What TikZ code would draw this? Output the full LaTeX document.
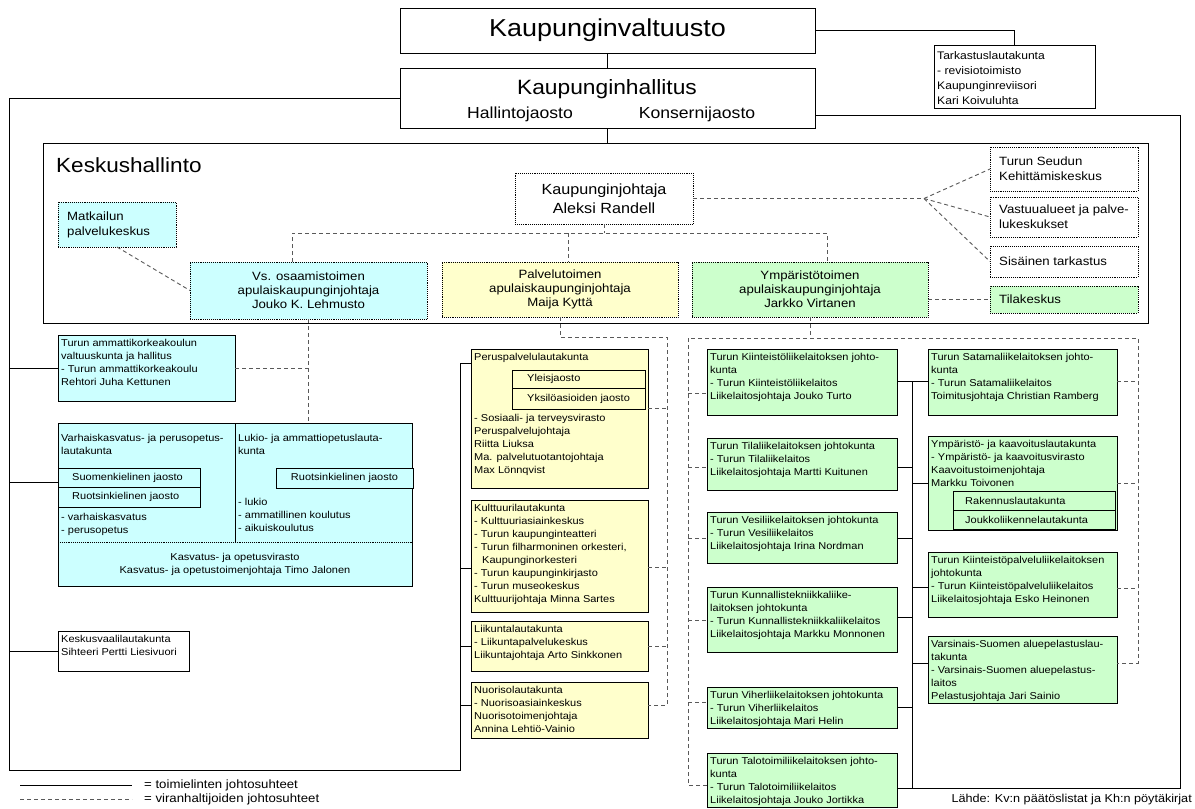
\documentclass[tikz,border=0pt]{standalone}
\usepackage{fontspec}
\setmainfont{Liberation Sans}[FakeStretch=1.1]
\usetikzlibrary{calc}
\definecolor{cyb}{RGB}{204,255,255}
\definecolor{yeb}{RGB}{255,255,204}
\definecolor{grb}{RGB}{204,255,204}
\newcommand{\fsm}{\fontsize{10}{13}\selectfont}
\newcommand{\fmd}{\fontsize{12}{14}\selectfont}
\newcommand{\orgbox}[7][]{%
  \node[bx,#1,anchor=north west,minimum width=#5,minimum height=#6] (#2) at (#3,#4) {};
  \node[txt] (#2t) at ([xshift=3pt,yshift=-4.3pt]#2.north west) {#7};}
\begin{document}
\begin{tikzpicture}[x=1pt,y=-1pt,
  bx/.style={draw=black,line width=1pt,inner sep=0pt,outer sep=0pt},
  dbx/.style={draw=black,densely dotted,line width=0.9pt,inner sep=0pt,outer sep=0pt},
  txt/.style={anchor=north west,align=left,inner sep=0pt,font=\fsm},
  conn/.style={draw=black,line width=1pt},
  dconn/.style={draw=black!65,dash pattern=on 4pt off 3pt,line width=0.9pt},
  ]
\useasboundingbox[fill=white] (0,0) rectangle (1195,809);

% ---- top
\node[bx,anchor=north west,minimum width=415,minimum height=45,font=\fontsize{24.5}{28}\selectfont] (valt) at (400,8) {Kaupunginvaltuusto};
\node[bx,anchor=north west,minimum width=415,minimum height=60] (hall) at (400,68) {};
\node[inner sep=0pt,font=\fontsize{20.7}{24}\selectfont] (hallt) at (607,89) {Kaupunginhallitus};
\node[inner sep=0pt,font=\fontsize{16}{18}\selectfont] (hallj) at (520,114) {Hallintojaosto};
\node[inner sep=0pt,font=\fontsize{16}{18}\selectfont] (konsj) at (697,114) {Konsernijaosto};
\node[bx,anchor=north west,minimum width=161,minimum height=63] (tark) at (934,45) {};
\node[txt,font=\fontsize{11}{15}\selectfont] (tarkt) at ([xshift=3pt,yshift=-6pt]tark.north west) {Tarkastuslautakunta\\- revisiotoimisto\\Kaupunginreviisori\\Kari Koivuluhta};

% ---- Keskushallinto
\node[draw=black,line width=1.2pt,anchor=north west,minimum width=1105,minimum height=180,inner sep=0pt] (kh) at (43,143) {};
\node[anchor=west,inner sep=0pt,font=\fontsize{20.5}{24}\selectfont] (kht) at (56,165) {Keskushallinto};
\node[dbx,fill=cyb,anchor=north west,minimum width=118,minimum height=45] (matk) at (58,202) {};
\node[txt,anchor=west,font=\fontsize{12}{15}\selectfont] (matkt) at ([xshift=9pt]matk.west) {Matkailun\\palvelukeskus};
\node[dbx,anchor=north west,minimum width=178,minimum height=51,align=center,font=\fontsize{14.7}{19}\selectfont] (kj) at (515,173) {Kaupunginjohtaja\\Aleksi Randell};
\node[dbx,fill=cyb,anchor=north west,minimum width=237,minimum height=57,align=center,font=\fmd] (vs) at (190,262) {Vs. osaamistoimen\\apulaiskaupunginjohtaja\\Jouko K. Lehmusto};
\node[dbx,fill=yeb,anchor=north west,minimum width=236,minimum height=55,align=center,font=\fmd] (palv) at (442,262) {Palvelutoimen\\apulaiskaupunginjohtaja\\Maija Kyttä};
\node[dbx,fill=grb,anchor=north west,minimum width=236,minimum height=55,align=center,font=\fmd] (ymp) at (692,262) {Ympäristötoimen\\apulaiskaupunginjohtaja\\Jarkko Virtanen};
\node[dbx,anchor=north west,minimum width=148,minimum height=44] (ts) at (990,147) {};
\node[txt,anchor=west,font=\fontsize{12}{15}\selectfont] (tst) at ([xshift=9pt]ts.west) {Turun Seudun\\Kehittämiskeskus};
\node[dbx,anchor=north west,minimum width=148,minimum height=40] (va) at (990,197) {};
\node[txt,anchor=west,font=\fontsize{12}{15}\selectfont] (vat) at ([xshift=9pt]va.west) {Vastuualueet ja palve-\\lukeskukset};
\node[dbx,anchor=north west,minimum width=148,minimum height=31] (si) at (990,246) {};
\node[txt,anchor=west,font=\fontsize{12}{15}\selectfont] (sit) at ([xshift=9pt]si.west) {Sisäinen tarkastus};
\node[dbx,fill=grb,anchor=north west,minimum width=148,minimum height=27] (tk) at (990,286) {};
\node[txt,anchor=west,font=\fontsize{12}{15}\selectfont] (tkt) at ([xshift=9pt]tk.west) {Tilakeskus};

% ---- left (cyan) boxes
\orgbox[fill=cyb]{amk}{58}{335}{177}{66}{Turun ammattikorkeakoulun\\valtuuskunta ja hallitus\\- Turun ammattikorkeakoulu\\Rehtori Juha Kettunen}
\node[bx,fill=cyb,anchor=north west,minimum width=354,minimum height=163] (kasv) at (58,423) {};
\coordinate (kv1) at (235,423);
\coordinate (kv2) at (235,542);
\draw[conn] (kv1) -- (kv2);
\draw[black,densely dotted,line width=0.9pt] (kasv.west |- kv2) -- (kasv.east |- kv2);
\node[txt] (kasvt1) at (61,434.5) {Varhaiskasvatus- ja perusopetus-\\lautakunta};
\node[txt] (kasvt2) at (238,434.5) {Lukio- ja ammattiopetuslauta-\\kunta};
\node[bx,fill=cyb,anchor=north west,minimum width=142,minimum height=19] (suom) at (58,468) {};
\node[txt,anchor=west] (suomt) at ([xshift=14pt]suom.west) {Suomenkielinen jaosto};
\node[bx,fill=cyb,anchor=north west,minimum width=142,minimum height=20] (ruot) at (58,487) {};
\node[txt,anchor=west] (ruott) at ([xshift=14pt]ruot.west) {Ruotsinkielinen jaosto};
\node[bx,fill=cyb,anchor=north west,minimum width=137,minimum height=20,font=\fsm] (ruos) at (276,468) {Ruotsinkielinen jaosto};
\node[txt] (kasvt3) at (61,513.5) {- varhaiskasvatus\\- perusopetus};
\node[txt] (kasvt4) at (238,498.5) {- lukio\\- ammatillinen koulutus\\- aikuiskoulutus};
\node[align=center,inner sep=0pt,font=\fsm] (kasvt5) at (235,564) {Kasvatus- ja opetusvirasto\\Kasvatus- ja opetustoimenjohtaja Timo Jalonen};
\orgbox{vaali}{58}{631}{131}{40}{Keskusvaalilautakunta\\Sihteeri Pertti Liesivuori}

% ---- yellow boxes
\orgbox[fill=yeb]{peru}{471}{349}{177}{139}{Peruspalvelulautakunta}
\node[bx,fill=yeb,anchor=north west,minimum width=133,minimum height=18] (ylei) at (512,370) {};
\node[txt,anchor=west] (yleit) at ([xshift=15pt]ylei.west) {Yleisjaosto};
\node[bx,fill=yeb,anchor=north west,minimum width=133,minimum height=21] (yksi) at (512,388) {};
\node[txt,anchor=west] (yksit) at ([xshift=15pt]yksi.west) {Yksilöasioiden jaosto};
\node[txt] (perut2) at (474,414.5) {- Sosiaali- ja terveysvirasto\\Peruspalvelujohtaja\\Riitta Liuksa\\Ma. palvelutuotantojohtaja\\Max Lönnqvist};
\orgbox[fill=yeb]{kult}{471}{500}{177}{112}{Kulttuurilautakunta\\- Kulttuuriasiainkeskus\\- Turun kaupunginteatteri\\- Turun filharmoninen orkesteri,\\\hspace*{8pt}Kaupunginorkesteri\\- Turun kaupunginkirjasto\\- Turun museokeskus\\Kulttuurijohtaja Minna Sartes}
\orgbox[fill=yeb]{liik}{471}{621}{177}{50}{Liikuntalautakunta\\- Liikuntapalvelukeskus\\Liikuntajohtaja Arto Sinkkonen}
\orgbox[fill=yeb]{nuor}{471}{682}{177}{56}{Nuorisolautakunta\\- Nuorisoasiainkeskus\\Nuorisotoimenjohtaja\\Annina Lehtiö-Vainio}

% ---- green boxes
\orgbox[fill=grb]{kiint}{707}{349}{190}{66}{Turun Kiinteistöliikelaitoksen johto-\\kunta\\- Turun Kiinteistöliikelaitos\\Liikelaitosjohtaja Jouko Turto}
\orgbox[fill=grb]{tila}{707}{438}{190}{52}{Turun Tilaliikelaitoksen johtokunta\\- Turun Tilaliikelaitos\\Liikelaitosjohtaja Martti Kuitunen}
\orgbox[fill=grb]{vesi}{707}{512}{190}{51}{Turun Vesiliikelaitoksen johtokunta\\- Turun Vesiliikelaitos\\Liikelaitosjohtaja Irina Nordman}
\orgbox[fill=grb]{kunn}{707}{587}{190}{65}{Turun Kunnallistekniikkaliike-\\laitoksen johtokunta\\- Turun Kunnallistekniikkaliikelaitos\\Liikelaitosjohtaja Markku Monnonen}
\orgbox[fill=grb]{viher}{707}{687}{190}{41}{Turun Viherliikelaitoksen johtokunta\\- Turun Viherliikelaitos\\Liikelaitosjohtaja Mari Helin}
\orgbox[fill=grb]{talo}{707}{753}{190}{54}{Turun Talotoimiliikelaitoksen johto-\\kunta\\- Turun Talotoimiliikelaitos\\Liikelaitosjohtaja Jouko Jortikka}
\orgbox[fill=grb]{sata}{928}{349}{189}{66}{Turun Satamaliikelaitoksen johto-\\kunta\\- Turun Satamaliikelaitos\\Toimitusjohtaja Christian Ramberg}
\orgbox[fill=grb]{ympk}{928}{436}{189}{94}{Ympäristö- ja kaavoituslautakunta\\- Ympäristö- ja kaavoitusvirasto\\Kaavoitustoimenjohtaja\\Markku Toivonen}
\node[bx,fill=grb,anchor=north west,minimum width=162,minimum height=19] (rak) at (953,491) {};
\node[txt,anchor=west] (rakt) at ([xshift=12pt]rak.west) {Rakennuslautakunta};
\node[bx,fill=grb,anchor=north west,minimum width=162,minimum height=19] (jouk) at (953,510) {};
\node[txt,anchor=west] (joukt) at ([xshift=12pt]jouk.west) {Joukkoliikennelautakunta};
\orgbox[fill=grb]{kpal}{928}{552}{189}{65}{Turun Kiinteistöpalveluliikelaitoksen\\johtokunta\\- Turun Kiinteistöpalveluliikelaitos\\Liikelaitosjohtaja Esko Heinonen}
\orgbox[fill=grb]{vars}{928}{636}{189}{67}{Varsinais-Suomen aluepelastuslau-\\takunta\\- Varsinais-Suomen aluepelastus-\\laitos\\Pelastusjohtaja Jari Sainio}

% ---- solid connectors
\draw[conn] (valt.south) -- (hall.north);
\draw[conn] (valt.east) -| (tark.north);
\draw[conn] (hall.south) -- (hall.south |- kh.north);
\coordinate (Lb) at (9,770);
\coordinate (Yb) at (460,770);
\coordinate (Yt) at (460,363);
\draw[conn] (hall.west) -- (hall.west -| Lb) -- (Lb) -- (Yb) -- (Yt) -- (peru.west |- Yt);
\draw[conn] (Lb |- amk.west) -- (amk.west);
\coordinate (ks) at (9,482);
\draw[conn] (ks) -- (kasv.west |- ks);
\draw[conn] (Lb |- vaali.west) -- (vaali.west);
\coordinate (ys2) at (460,568);
\draw[conn] (ys2) -- (kult.west |- ys2);
\draw[conn] (Yb |- liik.west) -- (liik.west);
\coordinate (ys4) at (460,705);
\draw[conn] (ys4) -- (nuor.west |- ys4);
\coordinate (Rt) at (1180,115);
\coordinate (Rb) at (1180,788);
\draw[conn] (hall.east |- Rt) -- (Rt) -- (Rb) -- (talo.east |- Rb);
\coordinate (g1) at (912,381);
\coordinate (gb) at (912,788);
\draw[conn] (kiint.east |- g1) -- (sata.west |- g1);
\draw[conn] (g1) -- (gb);
\coordinate (g2) at (912,467);
\draw[conn] (tila.east |- g2) -- (g2);
\coordinate (g3) at (912,483);
\draw[conn] (g3) -- (ympk.west |- g3);
\coordinate (g4) at (912,538);
\draw[conn] (vesi.east |- g4) -- (g4);
\coordinate (g5) at (912,587);
\draw[conn] (g5) -- (kpal.west |- g5);
\coordinate (g6) at (912,617);
\draw[conn] (kunn.east |- g6) -- (g6);
\coordinate (g7) at (912,663);
\draw[conn] (g7) -- (vars.west |- g7);
\coordinate (g8) at (912,707);
\draw[conn] (viher.east |- g8) -- (g8);

% ---- dashed connectors
\coordinate (d1) at (292,233);
\coordinate (d2) at (827,233);
\coordinate (d3) at (568,233);
\draw[dconn] (kj.south) -- (kj.south |- d1);
\draw[dconn] (vs.north -| d1) -- (d1) -- (d2) -- (ymp.north -| d2);
\draw[dconn] (d3) -- (palv.north -| d3);
\coordinate (fan) at (924,198.5);
\draw[dconn] (kj.east) -- (fan);
\draw[dconn] (fan) -- (ts.west);
\draw[dconn] (fan) -- (va.west);
\draw[dconn] (fan) -- (si.west);
\draw[dconn] (ymp.east |- tk.west) -- (tk.west);
\draw[dconn] (matk.south) -- (vs.west);
\coordinate (v1) at (308,368);
\draw[dconn] (vs.south -| v1) -- (kasv.north -| v1);
\draw[dconn] (amk.east) -- (amk.east -| v1);
\coordinate (m2) at (667,337);
\coordinate (m3) at (667,705);
\draw[dconn] (palv.south) -- (palv.south |- m2) -- (m2) -- (m3) -- (nuor.east |- m3);
\coordinate (m4) at (667,408);
\draw[dconn] (peru.east |- m4) -- (m4);
\coordinate (m5) at (667,567);
\draw[dconn] (kult.east |- m5) -- (m5);
\draw[dconn] (liik.east) -- (liik.east -| m2);
\coordinate (e1) at (688,338);
\coordinate (e2) at (1138,338);
\coordinate (e3) at (688,785);
\coordinate (e4) at (1138,663);
\draw[dconn] (ymp.south) -- (ymp.south |- e1);
\draw[dconn] (talo.west |- e3) -- (e3) -- (e1) -- (e2) -- (e4) -- (vars.east |- e4);
\coordinate (el1) at (688,393);
\draw[dconn] (el1) -- (kiint.west |- el1);
\coordinate (el2) at (688,467);
\draw[dconn] (el2) -- (tila.west |- el2);
\coordinate (el3) at (688,538);
\draw[dconn] (el3) -- (vesi.west |- el3);
\coordinate (el4) at (688,620);
\draw[dconn] (el4) -- (kunn.west |- el4);
\coordinate (el5) at (688,702);
\draw[dconn] (el5) -- (viher.west |- el5);
\coordinate (er1) at (1138,381);
\draw[dconn] (sata.east |- er1) -- (er1);
\coordinate (er2) at (1138,483);
\draw[dconn] (ympk.east |- er2) -- (er2);
\coordinate (er3) at (1138,588);
\draw[dconn] (kpal.east |- er3) -- (er3);

% ---- legend
\coordinate (l1) at (20,785);
\coordinate (l2) at (132,785);
\coordinate (l3) at (20,799);
\coordinate (l4) at (132,799);
\draw[conn] (l1) -- (l2);
\draw[dconn] (l3) -- (l4);
\node[anchor=west,inner sep=0pt,font=\fmd] (lg1) at (144,785) {= toimielinten johtosuhteet};
\node[anchor=west,inner sep=0pt,font=\fmd] (lg2) at (144,799) {= viranhaltijoiden johtosuhteet};
\node[anchor=east,inner sep=0pt,font=\fontsize{11.5}{13}\selectfont] (lahde) at (1192,800) {Lähde: Kv:n päätöslistat ja Kh:n pöytäkirjat};
\end{tikzpicture}
\end{document}
